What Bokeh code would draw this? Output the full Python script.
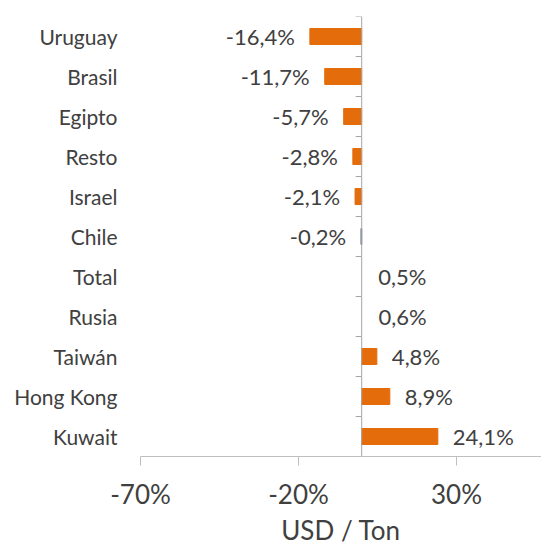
import math
from bokeh.plotting import figure
from bokeh.models import Range1d, FixedTicker, Span, ColumnDataSource
from bokeh.embed import file_html
from bokeh.resources import INLINE
from bokeh.core.properties import value

# ---- data ----
categories = ["Uruguay", "Brasil", "Egipto", "Resto", "Israel", "Chile",
              "Total", "Rusia", "Taiwán", "Hong Kong", "Kuwait"]
values = [-16.4, -11.7, -5.7, -2.8, -2.1, -0.2, 0.5, 0.6, 4.8, 8.9, 24.1]
x_ticks = [-70, -20, 30]
x_tick_labels = ["-70%", "-20%", "30%"]
axis_title = "USD / Ton"

ORANGE = "#E46C0A"
bar_colors = [ORANGE] * 5 + ["#3F5470", ORANGE, ORANGE] + [ORANGE] * 3
bar_alpha = [1] * 6 + [0, 0] + [1] * 3

FONT = "Lato"
TXT = "#404040"

ys = list(range(len(categories)))
labels = [f"{v:.1f}".replace(".", ",") + "%" for v in values]

src = ColumnDataSource(dict(y=ys, v=values, color=bar_colors, alpha=bar_alpha, label=labels))
neg = ColumnDataSource(dict(y=[y for y, v in zip(ys, values) if v < 0],
                            v=[v for v in values if v < 0],
                            label=[l for l, v in zip(labels, values) if v < 0]))
pos = ColumnDataSource(dict(y=[y for y, v in zip(ys, values) if v >= 0],
                            v=[v for v in values if v >= 0],
                            label=[l for l, v in zip(labels, values) if v >= 0]))

p = figure(width=541, height=549,
           x_range=Range1d(-70, 56.9),
           y_range=Range1d(len(categories) - 0.5, -0.5),
           output_backend="svg", toolbar_location=None,
           min_border_left=140, min_border_right=0,
           min_border_top=16, min_border_bottom=93)
p.outline_line_color = None
p.xgrid.visible = False
p.ygrid.visible = False
p.background_fill_color = "white"
p.border_fill_color = "white"

p.hbar(y="y", left=0, right="v", height=0.4, fill_color="color", line_color="color",
       fill_alpha="alpha", line_alpha="alpha", source=src)

# category axis line at zero with boundary ticks
p.add_layout(Span(location=0, dimension="height", line_color="#A6A6A6", line_width=1))
p.ray(x=0, y=[y - 0.5 for y in ys], length=6, length_units="screen", angle=math.pi,
      line_color="#A6A6A6", line_width=1)

# data labels
p.text(x="v", y="y", text="label", x_offset=-15, text_align="right", text_baseline="middle",
       text_font=value(FONT), text_font_size="22px", text_color=TXT, source=neg)
p.text(x="v", y="y", text="label", x_offset=15, text_align="left", text_baseline="middle",
       text_font=value(FONT), text_font_size="22px", text_color=TXT, source=pos)

# x axis
xa = p.xaxis[0]
xa.ticker = FixedTicker(ticks=x_ticks)
xa.major_label_overrides = {t: l for t, l in zip(x_ticks, x_tick_labels)}
xa.axis_line_color = "#BFBFBF"
xa.major_tick_line_color = "#BFBFBF"
xa.major_tick_out = 9
xa.major_tick_in = 0
xa.minor_tick_line_color = None
xa.major_label_text_font = FONT
xa.major_label_text_font_size = "26px"
xa.major_label_text_color = TXT
xa.major_label_standoff = 12
xa.axis_label = axis_title
xa.axis_label_text_font = FONT
xa.axis_label_text_font_size = "26px"
xa.axis_label_text_font_style = "normal"
xa.axis_label_text_color = TXT
xa.axis_label_standoff = 1

# y axis (category labels)
ya = p.yaxis[0]
ya.ticker = FixedTicker(ticks=ys)
ya.major_label_overrides = {y: c for y, c in zip(ys, categories)}
ya.axis_line_color = None
ya.major_tick_line_color = None
ya.minor_tick_line_color = None
ya.major_tick_out = 0
ya.major_tick_in = 0
ya.major_label_standoff = 23
ya.major_label_text_font = FONT
ya.major_label_text_font_size = "21px"
ya.major_label_text_color = TXT

open("out.html", "w").write(file_html(p, INLINE))
